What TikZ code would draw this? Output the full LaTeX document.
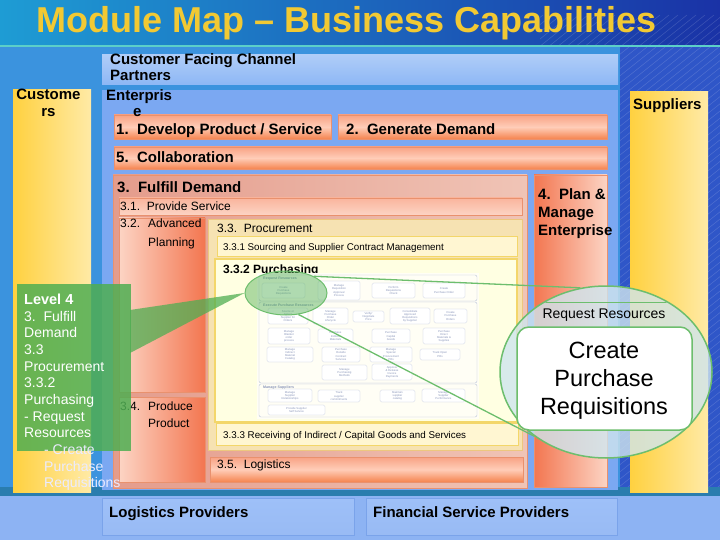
\documentclass[tikz,border=0pt]{standalone}
\usepackage{fontspec}
\setmainfont{Liberation Sans}
\usetikzlibrary{shapes.geometric}
\definecolor{bgL}{HTML}{1E9CD4}
\definecolor{bgR}{HTML}{1A32A6}
\definecolor{panel}{HTML}{3B93DE}
\definecolor{rightblue}{HTML}{2F56C8}
\definecolor{cfcp}{HTML}{8DB7F5}
\definecolor{ent}{HTML}{7BA8F2}
\definecolor{band}{HTML}{8DB3F3}
\definecolor{bandbox}{HTML}{9EC0F8}
\definecolor{bandline}{HTML}{7AA3EA}
\definecolor{yelL}{HTML}{FFD140}
\definecolor{yelR}{HTML}{FFEAA6}
\definecolor{orTop}{HTML}{F8A284}
\definecolor{orMid}{HTML}{FFCDB8}
\definecolor{orBot}{HTML}{F5844F}
\definecolor{orLine}{HTML}{E9916E}
\definecolor{fdL}{HTML}{E49C8C}
\definecolor{fdR}{HTML}{F0C4B6}
\definecolor{redL}{HTML}{F37650}
\definecolor{pinkL}{HTML}{FCD4C4}
\definecolor{cream}{HTML}{F6E2B2}
\definecolor{creamLine}{HTML}{EDC77E}
\definecolor{paleY}{HTML}{FFF6D2}
\definecolor{yLine}{HTML}{F3D66A}
\definecolor{lightY}{HTML}{FFFFE2}
\definecolor{gr}{HTML}{4FAE52}
\definecolor{grLine}{HTML}{6DBE6D}
\definecolor{circ}{HTML}{CFE5EE}
\definecolor{titlecol}{HTML}{F2C933}
\definecolor{tshadow}{HTML}{1C2658}
\definecolor{tinyT}{HTML}{8A96BA}
\definecolor{tinyL}{HTML}{BAC3DA}
\definecolor{tealline}{HTML}{5CCFC8}
\definecolor{darkband}{HTML}{2A7DAE}
\tikzset{
  box/.style={anchor=north west, inner sep=0pt, outer sep=0pt},
  orbar/.style={box, draw=orLine, line width=0.8pt, top color=orTop, bottom color=orBot, middle color=orMid},
  yelbox/.style={box, left color=yelL, right color=yelR},
  lbl/.style={anchor=base west, inner sep=0pt, font=\fontsize{15}{17}\selectfont\bfseries},
  reg/.style={anchor=base west, inner sep=0pt, font=\fontsize{12}{14}\selectfont},
  smalltxt/.style={anchor=base west, inner sep=0pt, font=\fontsize{9.8}{11}\selectfont},
  lv/.style={anchor=base west, inner sep=0pt, text=white, font=\fontsize{14}{16}\selectfont},
  tb/.style={draw=tinyL, fill=white, rounded corners=1.5pt, inner sep=0pt, align=center,
    text=tinyT, font=\fontsize{2.8}{3.1}\selectfont, line width=0.3pt},
  grp/.style={box, draw=tinyL, rounded corners=2pt, line width=0.4pt},
  grplbl/.style={anchor=base west, inner sep=0pt, text=tinyT, font=\fontsize{3.6}{4}\selectfont\bfseries},
}
\newcommand{\tbx}[6]{\node[tb, minimum width=#4pt, minimum height=#5pt] (#1) at (#2,#3) {#6};}
\begin{document}
\begin{tikzpicture}[x=1pt,y=-1pt]
\useasboundingbox (0,0) rectangle (720,540);
% background
\node[box, left color=bgL, right color=bgR, minimum width=720pt, minimum height=540pt] (bg) at (0,0) {};
\node[box, fill=rightblue, minimum width=100pt, minimum height=445pt] (rightzone) at (620,47) {};
\begin{scope}
  \clip (540,0) rectangle (720,45) (620,47) rectangle (720,492);
  \foreach \i in {0,...,95} \draw[white, opacity=0.16, line width=0.5pt] ({-120+9*\i},495) -- ++(600,-480);
\end{scope}
\node[box, fill=panel, minimum width=620pt, minimum height=443pt] (panelbox) at (0,47) {};
\draw[tealline, line width=1.5pt] (0,46) -- (720,46);
\node[box, fill=darkband, minimum width=720pt, minimum height=10pt] (darkstrip) at (0,487) {};
\node[box, fill=band, minimum width=720pt, minimum height=44pt] (bottomband) at (0,496) {};
% title
\node[anchor=base, inner sep=0pt, font=\fontsize{36}{40}\selectfont\bfseries, text=titlecol] (title) at (346.5,33) {Module Map – Business Capabilities};
% outer boxes
\node[box, top color=cfcp!70!white, bottom color=cfcp, minimum width=516pt, minimum height=30pt] (cfcpbox) at (102,55) {};
\node[lbl] (cfcp1) at (110,65) {Customer Facing Channel};
\node[lbl] (cfcp2) at (110,81) {Partners};
\node[box, fill=ent, minimum width=516pt, minimum height=400pt] (entbox) at (102,90) {};
\node[lbl] (ent1) at (106,101) {Enterpris};
\node[yelbox, minimum width=78pt, minimum height=402pt] (custbox) at (13,90) {};
\node[lbl, anchor=base] (cust1) at (48.5,100) {Custome};
\node[lbl, anchor=base] (cust2) at (48.5,117) {rs};
\node[yelbox, minimum width=78pt, minimum height=400pt] (suppbox) at (630,92) {};
\node[lbl] (supp) at (633,110) {Suppliers};
% level 1 bars
\node[orbar, minimum width=217pt, minimum height=24pt] (dev) at (114,115) {};
\node[lbl] (devt) at (116,135) {1.\ \ Develop Product / Service};
\node[lbl] (ent2) at (133,117) {e};
\node[orbar, minimum width=269pt, minimum height=24pt] (gen) at (338,115) {};
\node[lbl] (gent) at (346,135) {2.\ \ Generate Demand};
\node[orbar, minimum width=493pt, minimum height=22pt] (col) at (114,147) {};
\node[lbl] (colt) at (116,163) {5.\ \ Collaboration};
\node[box, draw=orLine, line width=0.8pt, left color=fdL, right color=fdR, minimum width=414pt, minimum height=313pt] (ful) at (113,175) {};
\node[lbl] (fult) at (117,193) {3.\ \ Fulfill Demand};
\node[box, draw=orLine, line width=0.8pt, left color=redL, right color=pinkL, minimum width=73pt, minimum height=312pt] (plan) at (534,175) {};
\node[lbl] (plan1) at (538,200) {4.\ \ Plan \&};
\node[lbl] (plan2) at (538,218) {Manage};
\node[lbl] (plan3) at (538,236) {Enterprise};
% level 2
\node[box, draw=orLine, line width=0.6pt, top color=orTop!80!white, bottom color=pinkL, minimum width=403pt, minimum height=17pt] (prov) at (119,198) {};
\node[reg] (provt) at (120,211) {3.1.\ \ Provide Service};
\node[box, draw=orLine, line width=0.6pt, left color=pinkL, right color=redL, minimum width=86pt, minimum height=174pt] (adv) at (119,218) {};
\node[reg] (adv1a) at (120,228) {3.2.};
\node[reg] (adv1b) at (148,228) {Advanced};
\node[reg] (adv2) at (148,246) {Planning};
\node[box, draw=orLine, line width=0.6pt, left color=pinkL, right color=redL, minimum width=86pt, minimum height=85pt] (prod) at (119,397) {};
\node[reg] (prod1a) at (120,410) {3.4.};
\node[reg] (prod1b) at (148,410) {Produce};
\node[reg] (prod2) at (148,427) {Product};
\node[box, draw=creamLine, line width=0.8pt, fill=cream, minimum width=314pt, minimum height=231pt] (proc) at (208,219) {};
\node[reg] (proct) at (217,233) {3.3.\ \ Procurement};
\node[box, draw=yLine, line width=0.8pt, fill=paleY, minimum width=300pt, minimum height=20pt] (src) at (217,236) {};
\node[smalltxt] (srct) at (223,250) {3.3.1 Sourcing and Supplier Contract Management};
\node[box, draw=yLine, line width=1.5pt, fill=lightY, minimum width=302pt, minimum height=163pt] (purch) at (215,259) {};
\node[anchor=base west, inner sep=0pt, font=\fontsize{12}{14}\selectfont\bfseries] (purcht) at (223,273) {3.3.2 Purchasing};
\node[box, draw=yLine, line width=0.8pt, fill=paleY, minimum width=302pt, minimum height=22pt] (recv) at (216,423) {};
\node[smalltxt] (recvt) at (223,438) {3.3.3 Receiving of Indirect / Capital Goods and Services};
\node[orbar, line width=0.6pt, minimum width=313pt, minimum height=25pt] (logi) at (210,457) {};
\node[reg] (logit) at (217,468) {3.5.\ \ Logistics};
% providers
\node[box, draw=bandline, line width=0.6pt, top color=bandbox, bottom color=band!90!white, minimum width=252pt, minimum height=37pt] (lp) at (102,498) {};
\node[lbl] (lpt) at (109,517) {Logistics Providers};
\node[box, draw=bandline, line width=0.6pt, top color=bandbox, bottom color=band!90!white, minimum width=251pt, minimum height=37pt] (fsp) at (366,498) {};
\node[lbl] (fspt) at (373,517) {Financial Service Providers};
% inner purchasing diagram
\node[box, fill=white!96!yellow, minimum width=222pt, minimum height=146pt] (diag) at (257,273) {};
\node[grp, minimum width=218pt, minimum height=26pt] (g1) at (259,275) {};
\node[grplbl] (g1t) at (263,279.5) {Request Resources};
\tbx{r1}{283.5}{290.5}{43}{15}{Create\\Purchase\\Requisitions}
\tbx{r2}{339}{290.5}{42}{19}{Manage\\Requisition\\Approval\\Process}
\tbx{r3}{393.5}{290.5}{43}{15}{Perform\\Requisitions\\Check}
\tbx{r4}{444}{290.5}{42}{15}{Create\\Purchase Order}
\node[grp, minimum width=218pt, minimum height=81pt] (g2) at (259,302) {};
\node[grplbl] (g2t) at (263,306.5) {Execute Purchase Resources};
\tbx{a1}{288}{316}{40}{16}{Source or\\Select\\Supplier for\\Orders}
\tbx{a2}{330.5}{316}{35}{16}{Manage\\Purchase\\Order\\Lifecycle}
\tbx{a3}{368.5}{316.5}{31}{11}{Verify/\\Negotiate\\Price}
\tbx{a4}{410}{316}{40}{16}{Consolidate\\Approved\\Requisitions\\by Supplier}
\tbx{a5}{450.5}{316}{33}{14}{Create\\Purchase\\Orders}
\tbx{b1}{289}{336}{42}{16}{Manage\\Blanket\\order\\process}
\tbx{b2}{335.5}{336}{35}{14}{Purchase\\Indirect\\Materials}
\tbx{b3}{391}{336}{38}{14}{Purchase\\Capital\\Goods}
\tbx{b4}{444}{336}{42}{16}{Purchase\\Direct\\Materials \&\\Supplies}
\tbx{c1}{290}{354.5}{46}{15}{Manage\\Indirect\\Material\\Catalog}
\tbx{c2}{341}{354.5}{38}{15}{Purchase\\Outside\\Contract\\Services}
\tbx{c3}{391}{354.5}{42}{15}{Manage\\Special\\Procurement\\POs}
\tbx{c4}{440}{354.5}{40}{11}{Track Open\\POs}
\tbx{d1}{344.5}{372.5}{45}{15}{Manage\\Purchasing\\Methods}
\tbx{d2}{392}{372}{40}{16}{Approve\\\& Release\\Invoice\\Payments}
\node[grp, minimum width=218pt, minimum height=33pt] (g3) at (259,384) {};
\node[grplbl] (g3t) at (263,388.5) {Manage Suppliers};
\tbx{e1}{290}{395.5}{44}{13}{Manage\\Supplier\\Relationships}
\tbx{e2}{339}{396}{42}{12}{Track\\supplier\\commitments}
\tbx{e3}{397.5}{396}{35}{12}{Maintain\\supplier\\catalog}
\tbx{e4}{443.5}{395.5}{43}{13}{Manage\\Supplier\\Performance}
\tbx{e5}{296.5}{410}{57}{10}{Provide Supplier\\Self Service}
% zoom source ellipse
\node[ellipse, draw=grLine, line width=1pt, fill=gr, fill opacity=0.45, minimum width=82pt, minimum height=44pt, inner sep=0pt] (zsrc) at (286,293) {};
% wedge to level 4 box
\coordinate (w1) at (130,310);
\coordinate (w2) at (130,353);
\fill[gr, opacity=0.75] (w1) -- (zsrc.west) -- (w2) -- cycle;
% level 4 box
\node[box, fill=gr, fill opacity=0.85, minimum width=114pt, minimum height=167pt] (lvbox) at (17,284) {};
\node[lv, font=\fontsize{14.5}{16}\selectfont\bfseries] (lv1) at (24,304) {Level 4};
\node[lv] (lv2) at (24,321) {3.\ \ Fulfill};
\node[lv] (lv3) at (24,337) {Demand};
\node[lv] (lv4) at (24,354) {3.3};
\node[lv] (lv5) at (24,371) {Procurement};
\node[lv] (lv6) at (24,387) {3.3.2};
\node[lv] (lv7) at (24,404) {Purchasing};
\node[lv] (lv8) at (24,421) {- Request};
\node[lv] (lv9) at (24,437) {Resources};
\node[lv, text=white!92!blue] (lv10) at (44,454) {- Create};
\node[lv, text=white!92!blue] (lv11) at (44,471) {Purchase};
\node[lv, text=white!92!blue] (lv12) at (44,487) {Requisitions};
% magnifier
\node[ellipse, draw=grLine, line width=1.5pt, fill=circ, fill opacity=0.8, minimum width=212pt, minimum height=172pt, inner sep=0pt] (mag) at (606,372) {};
\draw[grLine, line width=1.3pt] (zsrc.31) -- (mag.107);
\draw[grLine, line width=1.3pt] (zsrc.-60) -- (mag.222);
\begin{scope}
  \clip (606,372) ellipse [x radius=105pt, y radius=85pt];
  \draw[grLine, line width=1pt] (480,302) -- (730,302);
\end{scope}
\node[anchor=base, inner sep=0pt, font=\fontsize{14}{16}\selectfont] (magt) at (604,318) {Request Resources};
\node[box, draw=grLine, line width=1.5pt, fill=white, rounded corners=12pt, minimum width=175pt, minimum height=103pt] (magbox) at (517,327) {};
\node[anchor=base, inner sep=0pt, font=\fontsize{23.5}{28}\selectfont] (mag1) at (604,358) {Create};
\node[anchor=base, inner sep=0pt, font=\fontsize{23.5}{28}\selectfont] (mag2) at (604,386) {Purchase};
\node[anchor=base, inner sep=0pt, font=\fontsize{23.5}{28}\selectfont] (mag3) at (604,414) {Requisitions};
\end{tikzpicture}
\end{document}
